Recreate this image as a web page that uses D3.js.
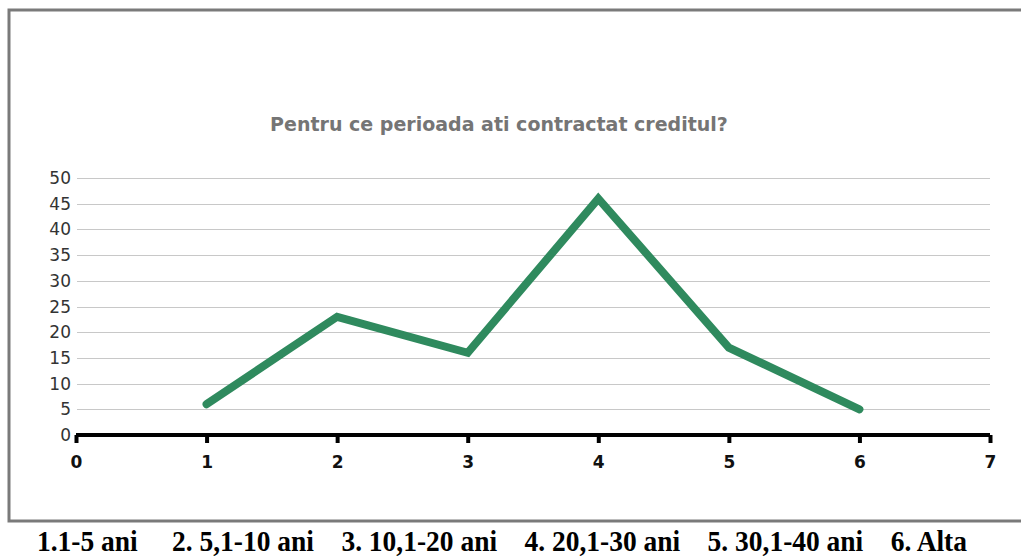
<!DOCTYPE html>
<html>
<head>
<meta charset="utf-8">
<script src="https://cdn.jsdelivr.net/npm/d3@7"></script>
<style>
  body { margin: 0; background: #fff; }
  svg { display: block; }
</style>
</head>
<body>
<svg id="main" width="1021" height="559"></svg>
<script>
// data
var title = "Pentru ce perioada ati contractat creditul?"
var xValues = [1, 2, 3, 4, 5, 6]
var yValues = [6, 23, 16, 46, 17, 5]
var xTicks = [0, 1, 2, 3, 4, 5, 6, 7]
var yTicks = [0, 5, 10, 15, 20, 25, 30, 35, 40, 45, 50]
var legendText = "1.1-5 ani     2. 5,1-10 ani    3. 10,1-20 ani    4. 20,1-30 ani    5. 30,1-40 ani    6. Alta"

svg = d3.select("#main")

// frame
svg.append("rect")
  .attr("x", 9).attr("y", 10)
  .attr("width", 1030).attr("height", 511)
  .attr("fill", "#fff")
  .attr("stroke", "#7a7a7a")
  .attr("stroke-width", 3)

var x = d3.scaleLinear().domain([0, 7]).range([76, 990])
var y = d3.scaleLinear().domain([0, 50]).range([435, 178])

// grid lines
svg.append("g").selectAll("line")
  .data(yTicks.slice(1))
  .join("line")
  .attr("x1", 77).attr("x2", 990)
  .attr("y1", d => Math.round(y(d)) + 0.5).attr("y2", d => Math.round(y(d)) + 0.5)
  .attr("stroke", "#c8c8c8")

// y labels
svg.append("g").selectAll("text")
  .data(yTicks)
  .join("text")
  .attr("x", 71)
  .attr("y", d => y(d) + 6)
  .attr("text-anchor", "end")
  .attr("font-family", "DejaVu Sans, Verdana, sans-serif")
  .attr("font-size", 17)
  .attr("fill", "#333")
  .text(d => d)

// x axis
var xAxis = d3.axisBottom(x).tickValues(xTicks).tickFormat(d3.format("d"))
  .tickSize(8).tickPadding(13)
var gx = svg.append("g").attr("transform", "translate(0,435)").call(xAxis)
gx.attr("font-size", 17).attr("font-family", "DejaVu Sans, Verdana, sans-serif")
gx.select(".domain").attr("stroke", "#000").attr("stroke-width", 4)
  .attr("d", "M" + x(0) + ",0H" + x(7))
gx.selectAll(".tick line").attr("stroke", "#000").attr("stroke-width", 4)
gx.selectAll(".tick text")
  .style("font-size", "17px")
  .style("font-weight", "bold")
  .attr("fill", "#111")

// line
var line = d3.line()
  .x((d, i) => x(xValues[i]))
  .y(d => y(d))
svg.append("path")
  .datum(yValues)
  .attr("d", line)
  .attr("fill", "none")
  .attr("stroke", "#2f8a5e")
  .attr("stroke-width", 8)
  .attr("stroke-linecap", "round")
  .attr("stroke-linejoin", "miter")

// title
svg.append("text")
  .attr("x", 499).attr("y", 131)
  .attr("text-anchor", "middle")
  .attr("font-family", "DejaVu Sans, Verdana, sans-serif")
  .attr("font-size", 19)
  .attr("font-weight", "bold")
  .attr("fill", "#757575")
  .text(title)

// category note below the frame
svg.append("text")
  .attr("x", 37).attr("y", 551)
  .attr("font-family", "Liberation Serif, Times New Roman, serif")
  .attr("font-size", 29)
  .attr("font-weight", "bold")
  .attr("fill", "#000")
  .attr("textLength", 930)
  .attr("lengthAdjust", "spacingAndGlyphs")
  .style("white-space", "pre")
  .text(legendText)
</script>
</body>
</html>
